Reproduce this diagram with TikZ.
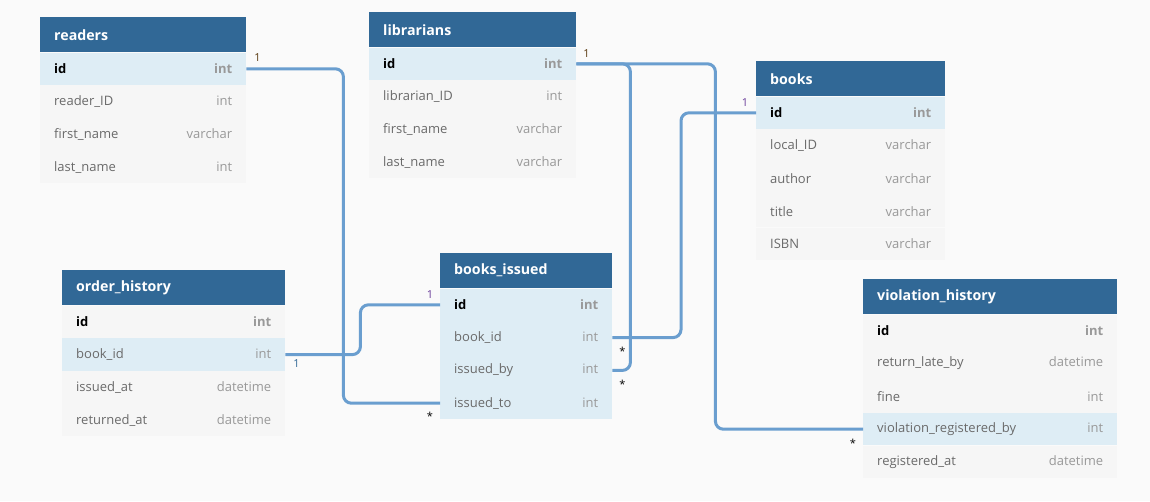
\documentclass[tikz,border=0pt]{standalone}
\usepackage{fontspec}
\setmainfont{Open Sans}
\usetikzlibrary{positioning}

\definecolor{bggray}{HTML}{FAFAFA}
\definecolor{headblue}{HTML}{316896}
\definecolor{rowgray}{HTML}{F6F6F6}
\definecolor{rowblue}{HTML}{DEEDF5}
\definecolor{fieldgray}{HTML}{6A6A6A}
\definecolor{typegray}{HTML}{999999}
\definecolor{linkblue}{HTML}{6A9ECF}
\definecolor{onebrown}{HTML}{5A3A10}
\definecolor{onepurple}{HTML}{6A3D9A}

\newcommand{\coltype}[1]{\hfill\textcolor{typegray}{#1}}

\tikzset{
  tablehead/.style={anchor=north west, fill=headblue, text=white,
    font=\fontsize{14.2}{16}\selectfont\bfseries, minimum height=35pt,
    inner xsep=14pt, inner ysep=0pt, align=left},
  fieldrow/.style={fill=rowgray, text=fieldgray,
    font=\fontsize{13}{15}\selectfont, minimum height=32.4pt,
    inner xsep=14pt, inner ysep=0pt, align=left},
  linked/.style={fill=rowblue},
  pkey/.style={text=black},
  relline/.style={draw=linkblue, line width=3pt, rounded corners=8pt},
  cardlabel/.style={font=\fontsize{11}{13}\selectfont, inner sep=0pt}
}

\begin{document}
\begin{tikzpicture}[x=1pt, y=-1pt]
\fill[bggray] (0,0) rectangle (1150,501);

% readers
\begin{scope}[every node/.append style={text width=178pt}]
\node[tablehead] (readers) at (40,17) {readers};
\node[fieldrow, linked, pkey, below=0pt of readers] (readers-id) {\textbf{id}\coltype{\textbf{int}}};
\node[fieldrow, below=0pt of readers-id] (readers-rid) {reader\_ID\coltype{int}};
\node[fieldrow, below=0pt of readers-rid] (readers-first) {first\_name\coltype{varchar}};
\node[fieldrow, below=0pt of readers-first] (readers-last) {last\_name\coltype{int}};
\end{scope}

% librarians
\begin{scope}[every node/.append style={text width=179pt}]
\node[tablehead] (libs) at (369,12) {librarians};
\node[fieldrow, linked, pkey, below=0pt of libs] (libs-id) {\textbf{id}\coltype{\textbf{int}}};
\node[fieldrow, below=0pt of libs-id] (libs-lid) {librarian\_ID\coltype{int}};
\node[fieldrow, below=0pt of libs-lid] (libs-first) {first\_name\coltype{varchar}};
\node[fieldrow, below=0pt of libs-first] (libs-last) {last\_name\coltype{varchar}};
\end{scope}

% books
\begin{scope}[every node/.append style={text width=161pt}]
\node[tablehead] (books) at (756,61) {books};
\node[fieldrow, linked, pkey, below=0pt of books] (books-id) {\textbf{id}\coltype{\textbf{int}}};
\node[fieldrow, below=0pt of books-id] (books-local) {local\_ID\coltype{varchar}};
\node[fieldrow, below=0pt of books-local] (books-author) {author\coltype{varchar}};
\node[fieldrow, below=0pt of books-author] (books-title) {title\coltype{varchar}};
\node[fieldrow, below=0pt of books-title] (books-isbn) {ISBN\coltype{varchar}};
\end{scope}

% order_history
\begin{scope}[every node/.append style={text width=195pt}]
\node[tablehead] (orders) at (62,270) {order\_history};
\node[fieldrow, pkey, below=0pt of orders] (orders-id) {\textbf{id}\coltype{\textbf{int}}};
\node[fieldrow, linked, below=0pt of orders-id] (orders-book) {book\_id\coltype{int}};
\node[fieldrow, below=0pt of orders-book] (orders-issued) {issued\_at\coltype{datetime}};
\node[fieldrow, below=0pt of orders-issued] (orders-returned) {returned\_at\coltype{datetime}};
\end{scope}

% books_issued
\begin{scope}[every node/.append style={text width=144pt}]
\node[tablehead] (issued) at (440,253) {books\_issued};
\node[fieldrow, linked, pkey, below=0pt of issued] (issued-id) {\textbf{id}\coltype{\textbf{int}}};
\node[fieldrow, linked, below=0pt of issued-id] (issued-book) {book\_id\coltype{int}};
\node[fieldrow, linked, below=0pt of issued-book] (issued-by) {issued\_by\coltype{int}};
\node[fieldrow, linked, below=0pt of issued-by] (issued-to) {issued\_to\coltype{int}};
\end{scope}

% violation_history
\begin{scope}[every node/.append style={text width=226pt}]
\node[tablehead] (fines) at (863,279) {violation\_history};
\node[fieldrow, pkey, below=0pt of fines] (fines-id) {\textbf{id}\coltype{\textbf{int}}};
\node[fieldrow, below=0pt of fines-id] (fines-late) {return\_late\_by\coltype{datetime}};
\node[fieldrow, below=0pt of fines-late] (fines-fine) {fine\coltype{int}};
\node[fieldrow, linked, below=0pt of fines-fine] (fines-regby) {violation\_registered\_by\coltype{int}};
\node[fieldrow, below=0pt of fines-regby] (fines-regat) {registered\_at\coltype{datetime}};
\end{scope}

% relations
\draw[relline] (readers-id.east) -- ++(97,0) |- (issued-to.west);
\draw[relline] (libs-id.east) -- ++(54,0) |- (issued-by.east);
\draw[relline] (libs-id.east) -- ++(139,0) |- (fines-regby.west);
\draw[relline] (books-id.west) -- ++(-75,0) |- (issued-book.east);
\draw[relline] (orders-book.east) -- ++(75,0) |- (issued-id.west);

% cardinalities
\node[cardlabel, text=onebrown] (c-readers) at ([shift={(11,-11)}]readers-id.east) {1};
\node[cardlabel] (c-to) at ([shift={(-10,13)}]issued-to.west) {*};
\node[cardlabel, text=onebrown] (c-libs) at ([shift={(10,-10)}]libs-id.east) {1};
\node[cardlabel] (c-by) at ([shift={(10,14)}]issued-by.east) {*};
\node[cardlabel] (c-regby) at ([shift={(-10,14)}]fines-regby.west) {*};
\node[cardlabel, text=onepurple] (c-books) at ([shift={(-11,-10)}]books-id.west) {1};
\node[cardlabel] (c-book) at ([shift={(10,14)}]issued-book.east) {*};
\node[cardlabel, text=headblue] (c-orders) at ([shift={(11,9)}]orders-book.east) {1};
\node[cardlabel, text=onepurple] (c-id) at ([shift={(-10,-10)}]issued-id.west) {1};
\end{tikzpicture}
\end{document}
